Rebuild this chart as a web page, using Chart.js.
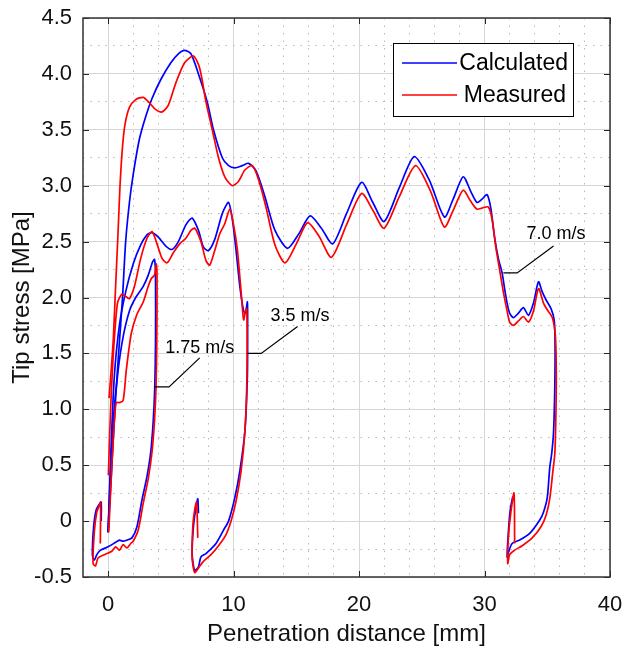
<!DOCTYPE html>
<html>
<head>
<meta charset="utf-8">
<script src="https://cdn.jsdelivr.net/npm/chart.js@4.4.1/dist/chart.umd.min.js"></script>
<style>
  body { margin: 0; background: #fff; }
  #wrap { width: 626px; height: 653px; }
</style>
</head>
<body>
<div id="wrap"><canvas id="tipChart" width="626" height="653"></canvas></div>
<script>
// [penetration mm, tip stress MPa]
const calc175 = [[0,-0.1],[0.2,0.45],[0.45,0.95],[0.8,1.35],[1.2,1.65],[1.7,1.88],[2.2,2.0],[2.8,2.1],[3.2,2.2],[3.55,2.32],[3.7,2.34],[3.78,2.2],[3.78,1.6],[3.72,1.2],[3.6,0.9],[3.4,0.62],[3.1,0.4],[2.7,0.19],[2.3,-0.05],[1.9,-0.15],[1.5,-0.17],[1.2,-0.18],[0.9,-0.17],[0.6,-0.19],[0,-0.23],[-0.6,-0.26],[-0.9,-0.3],[-1.1,-0.35],[-1.25,-0.3],[-1.15,-0.05],[-0.95,0.1],[-0.7,0.15],[-0.55,0.17],[-0.55,0.0]];
const meas175 = [[0.05,-0.1],[0.3,0.5],[0.5,0.9],[0.65,1.06],[0.9,1.06],[1.2,1.08],[1.45,1.35],[1.85,1.68],[2.3,1.85],[2.8,1.96],[3.2,2.1],[3.45,2.17],[3.7,2.2],[3.85,2.3],[3.9,2.2],[3.88,1.6],[3.82,1.2],[3.7,0.9],[3.5,0.62],[3.2,0.38],[2.8,0.16],[2.4,-0.08],[2.0,-0.18],[1.8,-0.2],[1.5,-0.24],[1.2,-0.21],[0.9,-0.26],[0.6,-0.23],[0.3,-0.27],[-0.3,-0.3],[-0.8,-0.33],[-1.0,-0.4],[-1.2,-0.38],[-1.1,-0.1],[-0.9,0.08],[-0.7,0.14],[-0.6,0.17],[-0.62,-0.2]];
const calc35 = [[0,-0.1],[0.25,0.7],[0.5,1.3],[0.9,1.75],[1.4,2.05],[2.0,2.3],[2.6,2.47],[3.1,2.56],[3.5,2.58],[4.0,2.54],[4.6,2.46],[5.1,2.43],[5.6,2.5],[6.2,2.65],[6.7,2.71],[7.2,2.6],[7.6,2.45],[8.0,2.42],[8.5,2.52],[9.1,2.75],[9.6,2.85],[9.9,2.7],[10.2,2.42],[10.5,2.1],[10.8,1.88],[10.95,1.86],[11.1,1.96],[11.12,1.7],[11.1,1.3],[10.9,0.8],[10.5,0.45],[10.1,0.21],[9.6,0.0],[9.2,-0.08],[8.6,-0.2],[7.8,-0.29],[7.4,-0.32],[7.2,-0.41],[6.9,-0.44],[6.7,-0.3],[6.8,-0.05],[7.0,0.12],[7.15,0.2],[7.2,0.07]];
const meas35 = [[0.02,0.41],[0.2,1.0],[0.45,1.55],[0.75,1.95],[1.1,2.03],[1.4,2.01],[1.7,1.99],[2.1,2.1],[2.6,2.35],[3.1,2.53],[3.5,2.59],[3.9,2.48],[4.3,2.35],[4.7,2.31],[5.2,2.4],[5.7,2.48],[6.2,2.53],[6.6,2.6],[6.9,2.62],[7.4,2.5],[7.8,2.33],[8.1,2.29],[8.5,2.42],[8.9,2.57],[9.3,2.66],[9.7,2.79],[10.0,2.65],[10.3,2.43],[10.6,2.05],[10.8,1.8],[10.95,1.88],[11.05,1.9],[11.08,1.6],[11.05,1.2],[10.9,0.8],[10.6,0.45],[10.2,0.18],[9.8,0.0],[9.4,-0.12],[8.8,-0.22],[8.2,-0.3],[7.6,-0.36],[7.2,-0.42],[6.9,-0.46],[6.7,-0.33],[6.75,-0.05],[6.9,0.1],[7.05,0.17],[7.15,-0.15]];
const calc70 = [[0,-0.1],[0.3,0.5],[0.6,1.1],[0.9,1.6],[1.15,2.0],[1.4,2.5],[1.7,2.85],[2.0,3.1],[2.5,3.42],[3.0,3.62],[3.5,3.78],[4.2,3.95],[5.0,4.1],[5.6,4.18],[6.1,4.21],[6.6,4.18],[7.2,4.0],[7.9,3.75],[8.4,3.5],[9.1,3.25],[9.6,3.18],[10.1,3.16],[10.7,3.18],[11.2,3.2],[11.8,3.13],[12.5,2.9],[13.3,2.6],[14.3,2.44],[15.2,2.57],[16.1,2.73],[17.0,2.62],[17.9,2.48],[19.0,2.75],[20.2,3.03],[21.1,2.85],[22.0,2.68],[23.2,2.98],[24.4,3.26],[25.6,3.05],[26.8,2.72],[27.5,2.88],[28.3,3.08],[28.9,2.95],[29.4,2.85],[29.8,2.88],[30.2,2.92],[30.5,2.8],[30.8,2.54],[31.1,2.35],[31.4,2.22],[31.6,2.08],[31.8,1.95],[32.0,1.86],[32.3,1.82],[32.7,1.86],[33.1,1.91],[33.5,1.84],[33.9,1.95],[34.3,2.14],[34.6,2.05],[34.9,1.98],[35.3,1.9],[35.55,1.8],[35.62,1.6],[35.6,1.2],[35.5,0.79],[35.35,0.6],[35.2,0.48],[35.0,0.21],[34.7,0.08],[34.4,0.01],[33.6,-0.11],[32.8,-0.17],[32.2,-0.2],[31.9,-0.28],[31.8,-0.32],[31.9,-0.1],[32.05,0.1],[32.25,0.22]];
const meas70 = [[0.08,1.1],[0.4,1.6],[0.6,2.1],[0.8,2.6],[0.95,3.0],[1.15,3.35],[1.35,3.55],[1.7,3.7],[2.2,3.77],[2.8,3.79],[3.3,3.74],[3.8,3.68],[4.3,3.66],[4.8,3.72],[5.4,3.92],[6.1,4.1],[6.8,4.16],[7.3,4.05],[7.8,3.75],[8.3,3.5],[8.8,3.25],[9.3,3.08],[9.9,3.0],[10.4,3.04],[10.9,3.14],[11.5,3.18],[12.0,3.05],[12.6,2.8],[13.3,2.47],[14.1,2.31],[15.0,2.48],[15.9,2.67],[16.8,2.55],[17.8,2.36],[19.0,2.65],[20.2,2.93],[21.1,2.78],[22.0,2.62],[23.2,2.9],[24.5,3.18],[25.7,2.95],[26.8,2.63],[27.5,2.78],[28.3,2.96],[28.9,2.86],[29.4,2.79],[29.8,2.8],[30.3,2.81],[30.6,2.7],[30.9,2.45],[31.2,2.25],[31.5,2.05],[31.8,1.88],[32.0,1.78],[32.3,1.75],[32.7,1.79],[33.1,1.83],[33.5,1.78],[33.9,1.88],[34.3,2.08],[34.7,1.95],[35.0,1.89],[35.4,1.82],[35.65,1.65],[35.72,1.3],[35.68,0.9],[35.6,0.6],[35.45,0.45],[35.2,0.2],[34.9,0.05],[34.5,-0.05],[33.8,-0.15],[33.0,-0.22],[32.4,-0.26],[32.0,-0.3],[31.85,-0.38],[31.9,-0.15],[32.1,0.08],[32.35,0.25],[32.4,-0.2]];

const seriesNames = ['Calculated', 'Measured'];
const seriesColors = ['#0000ff', '#ff0000'];
const xMajor = [0, 10, 20, 30, 40];
const yMajor = [-0.5, 0, 0.5, 1, 1.5, 2, 2.5, 3, 3.5, 4, 4.5];

// speed labels: text anchor and leader line, in data units
const speedLabels = ['1.75 m/s', '3.5 m/s', '7.0 m/s'];
const labelAt = [[7.3, 1.55], [15.3, 1.83], [35.7, 2.57]];
const leaders = [
    [[7.3, 1.46], [4.86, 1.2], [3.67, 1.2]],
    [[15.1, 1.74], [12.2, 1.5], [11.1, 1.5]],
    [[35.5, 2.46], [32.6, 2.22], [31.5, 2.22]]
];

const FONT = '"Liberation Sans", Arial, sans-serif';

function isMajorX(v) { return Math.abs(v % 10) < 1e-9; }
function isMajorY(v) { return Math.abs(v * 2 - Math.round(v * 2)) < 1e-9; }

function makeSet(points, kind) {
    return {
        label: seriesNames[kind],
        data: points.map(p => ({ x: p[0], y: p[1] })),
        showLine: true,
        borderColor: seriesColors[kind],
        borderWidth: 1.7,
        pointRadius: 0,
        tension: 0.25,
        fill: false
    };
}

const extras = {
    id: 'extras',
    afterDraw(chart) {
        const { ctx, chartArea: a, scales: { x, y } } = chart;
        ctx.save();

        // inward major ticks on all four sides
        ctx.strokeStyle = '#262626';
        ctx.lineWidth = 1;
        ctx.beginPath();
        xMajor.forEach(v => {
            const px = Math.round(x.getPixelForValue(v)) + 0.5;
            ctx.moveTo(px, a.top); ctx.lineTo(px, a.top + 6);
            ctx.moveTo(px, a.bottom); ctx.lineTo(px, a.bottom - 6);
        });
        yMajor.forEach(v => {
            const py = Math.round(y.getPixelForValue(v)) + 0.5;
            ctx.moveTo(a.left, py); ctx.lineTo(a.left + 6, py);
            ctx.moveTo(a.right, py); ctx.lineTo(a.right - 6, py);
        });
        ctx.stroke();

        // box
        ctx.lineWidth = 1.5;
        ctx.strokeStyle = '#333';
        ctx.strokeRect(a.left, a.top, a.right - a.left, a.bottom - a.top);

        // speed annotations
        ctx.strokeStyle = '#000';
        ctx.lineWidth = 1.2;
        ctx.fillStyle = '#000';
        ctx.font = '18px ' + FONT;
        ctx.textAlign = 'center';
        ctx.textBaseline = 'middle';
        speedLabels.forEach((txt, i) => {
            ctx.beginPath();
            leaders[i].forEach((p, j) => {
                const px = x.getPixelForValue(p[0]);
                const py = y.getPixelForValue(p[1]);
                if (j === 0) ctx.moveTo(px, py); else ctx.lineTo(px, py);
            });
            ctx.stroke();
            ctx.fillText(txt, x.getPixelForValue(labelAt[i][0]), y.getPixelForValue(labelAt[i][1]));
        });

        // legend box, upper right
        const bw = 180, bh = 73;
        const bx = a.right - 37 - bw, by = a.top + 25;
        ctx.fillStyle = '#fff';
        ctx.fillRect(bx, by, bw, bh);
        ctx.strokeStyle = '#000';
        ctx.lineWidth = 1;
        ctx.strokeRect(bx + 0.5, by + 0.5, bw, bh);
        ctx.font = '23px ' + FONT;
        ctx.textAlign = 'right';
        seriesNames.forEach((name, i) => {
            const ly = by + 20 + i * 32;
            ctx.strokeStyle = seriesColors[i];
            ctx.lineWidth = 1.5;
            ctx.beginPath();
            ctx.moveTo(bx + 9, ly);
            ctx.lineTo(bx + 64, ly);
            ctx.stroke();
            ctx.fillStyle = '#000';
            ctx.fillText(name, bx + bw - 5 - i * 2, ly + 1);
        });
        ctx.restore();
    }
};

new Chart(document.getElementById('tipChart'), {
    type: 'scatter',
    data: {
        datasets: [
            makeSet(meas175, 1), makeSet(calc175, 0),
            makeSet(meas35, 1), makeSet(calc35, 0),
            makeSet(meas70, 1), makeSet(calc70, 0)
        ]
    },
    options: {
        responsive: false,
        animation: false,
        layout: { padding: { top: 18, right: 16, left: 0, bottom: 0 } },
        plugins: {
            legend: { display: false },
            tooltip: { enabled: false }
        },
        scales: {
            x: {
                type: 'linear',
                min: -2,
                max: 40,
                afterFit: s => { s.height = 76; s.paddingLeft = 0; s.paddingRight = 0; },
                ticks: {
                    stepSize: 2,
                    autoSkip: false,
                    maxRotation: 0,
                    padding: 15,
                    color: '#111',
                    font: { family: FONT, size: 22 },
                    callback: v => isMajorX(v) ? String(v) : ''
                },
                grid: {
                    drawTicks: false,
                    color: c => (c.tick && isMajorX(c.tick.value)) ? '#d6d6d6' : '#b8b8b8',
                    lineWidth: 1
                },
                border: {
                    display: false,
                    dash: c => (c.tick && !isMajorX(c.tick.value)) ? [1.5, 6] : []
                },
                title: {
                    display: true,
                    text: 'Penetration distance [mm]',
                    color: '#111',
                    font: { family: FONT, size: 24 },
                    padding: { top: 0, bottom: 4 }
                }
            },
            y: {
                type: 'linear',
                min: -0.5,
                max: 4.5,
                afterFit: s => { s.width = 83; s.paddingTop = 0; s.paddingBottom = 0; },
                ticks: {
                    stepSize: 0.25,
                    autoSkip: false,
                    padding: 11,
                    color: '#111',
                    font: { family: FONT, size: 22 },
                    callback: v => isMajorY(v) ? (v === 0 ? '0' : v.toFixed(1)) : ''
                },
                grid: {
                    drawTicks: false,
                    color: c => (c.tick && isMajorY(c.tick.value)) ? '#d6d6d6' : '#b8b8b8',
                    lineWidth: 1
                },
                border: {
                    display: false,
                    dash: c => (c.tick && !isMajorY(c.tick.value)) ? [1.5, 6] : []
                },
                title: {
                    display: true,
                    text: 'Tip stress [MPa]',
                    color: '#111',
                    font: { family: FONT, size: 24 },
                    padding: { top: 8, bottom: 0 }
                }
            }
        }
    },
    plugins: [extras]
});
</script>
</body>
</html>
